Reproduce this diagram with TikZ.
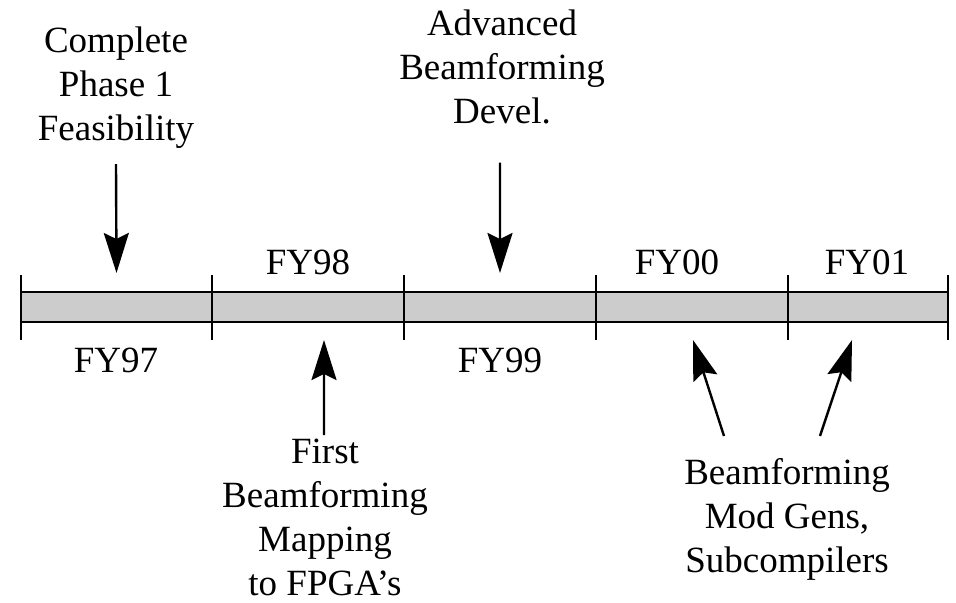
\documentclass[tikz,border=0pt]{standalone}
\usepackage{fontspec}
\setmainfont{Liberation Serif}
\usetikzlibrary{arrows.meta,positioning}
\definecolor{BarGray}{RGB}{204,204,204}
\tikzset{
  seg/.style={draw=black,fill=BarGray,line width=2.5bp,minimum width=192bp,minimum height=30bp,inner sep=0pt,outer sep=0pt},
  tick/.style={draw=black,line width=2bp},
  lbl/.style={align=center,inner sep=0pt,font=\fontsize{37bp}{44bp}\selectfont},
  pointer/.style={line width=2.4bp,-{Stealth[length=40bp,width=25bp,inset=6bp]}}
}
\begin{document}
\begin{tikzpicture}[x=1bp,y=-1bp]
\useasboundingbox (0,0) rectangle (956,603);
% timeline bar
\node[seg,minimum width=191bp,anchor=west] (s97) at (21,307) {};
\node[seg,right=0pt of s97] (s98) {};
\node[seg,right=0pt of s98] (s99) {};
\node[seg,right=0pt of s99] (s00) {};
\node[seg,minimum width=160bp,right=0pt of s00] (s01) {};
\foreach \s in {s97,s98,s99,s00,s01}
  \draw[tick] ([yshift=17bp]\s.north west) -- ([yshift=-18bp]\s.south west);
\draw[tick] ([yshift=17bp]s01.north east) -- ([yshift=-18bp]s01.south east);

% year labels
\node[lbl,anchor=base] (fy97) at (116,372) {FY97};
\node[lbl,anchor=base] (fy98) at (308,275) {FY98};
\node[lbl,anchor=base] (fy99) at (500,372) {FY99};
\node[lbl,anchor=base] (fy00) at (677,275) {FY00};
\node[lbl,anchor=base] (fy01) at (867,275) {FY01};

% milestones
\node[lbl,anchor=north] (feas) at (116,27) {Complete\\Phase 1\\Feasibility};
\node[lbl,anchor=north] (adv) at (502,10) {Advanced\\Beamforming\\Devel.};
\node[lbl,anchor=north] (first) at (325,439) {First\\Beamforming\\Mapping\\to FPGA's};
\node[lbl,anchor=north] (modgen) at (787,458) {Beamforming\\Mod Gens,\\Subcompilers};

\draw[pointer] ([yshift=-15bp]feas.south) -- ([yshift=19bp]s97.north);
\draw[pointer] ([xshift=-2bp,yshift=-38bp]adv.south) -- ([yshift=19bp]s99.north);
\draw[pointer] ([xshift=-1bp,yshift=4bp]first.north) -- ([xshift=16bp,yshift=-18bp]s98.south);
\draw[pointer] ([xshift=-63bp,yshift=22bp]modgen.north) -- ([xshift=1bp,yshift=-18bp]s00.south);
\draw[pointer] ([xshift=33bp,yshift=22bp]modgen.north) -- ([xshift=-16bp,yshift=-18bp]s01.south);
\end{tikzpicture}
\end{document}
